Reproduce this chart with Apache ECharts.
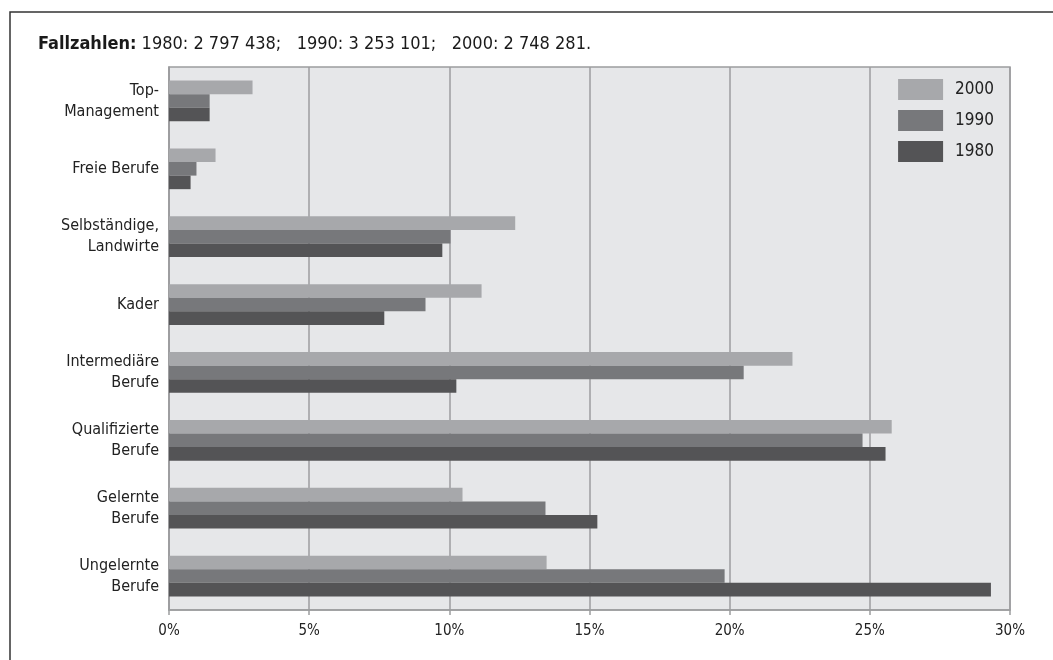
<!DOCTYPE html>
<html>
<head>
<meta charset="utf-8">
<script src="https://cdn.jsdelivr.net/npm/echarts@6/dist/echarts.min.js"></script>
<style>
html,body{margin:0;padding:0;background:#fff;}
#c{width:1053px;height:660px;}
</style>
</head>
<body>
<div id="c"></div>
<script>
var categories = ['Top-\nManagement', 'Freie Berufe', 'Selbständige,\nLandwirte', 'Kader', 'Intermediäre\nBerufe', 'Qualifizierte\nBerufe', 'Gelernte\nBerufe', 'Ungelernte\nBerufe'];
var years = ['2000', '1990', '1980'];
var values2000 = [2.98, 1.66, 12.35, 11.15, 22.24, 25.78, 10.47, 13.47];
var values1990 = [1.45, 0.98, 10.04, 9.15, 20.5, 24.74, 13.43, 19.82];
var values1980 = [1.45, 0.77, 9.75, 7.68, 10.25, 25.56, 15.28, 29.32];
var xTicks = [0, 5, 10, 15, 20, 25, 30];
var titleText = '1980: 2 797 438;   1990: 3 253 101;   2000: 2 748 281.';

var FONT = '"Liberation Sans Narrow", "DejaVu Sans Condensed", "Roboto", sans-serif';
var colors = ['#a7a8ab', '#77787b', '#545456'];
var seriesData = [values2000, values1990, values1980];

var chart = echarts.init(document.getElementById('c'), null, {renderer: 'canvas'});
chart.setOption({
  animation: false,
  backgroundColor: '#ffffff',
  textStyle: {fontFamily: FONT},
  graphic: [{
    type: 'rect',
    shape: {x: 10, y: 12, width: 1060, height: 670},
    style: {fill: 'none', stroke: '#333333', lineWidth: 1.5},
    silent: true, z: -10
  }],
  title: {
    text: '{b|Fallzahlen:} ' + titleText,
    left: 38, top: 35, padding: 0,
    textStyle: {
      fontFamily: FONT, fontSize: 18, fontWeight: 'normal', color: '#1a1a1a',
      rich: {b: {fontFamily: FONT, fontSize: 18, fontWeight: 'bold', color: '#1a1a1a'}}
    }
  },
  legend: {
    data: years,
    right: 59, top: 79, orient: 'vertical', padding: 0,
    itemWidth: 45, itemHeight: 21, itemGap: 10,
    icon: 'rect',
    textStyle: {fontFamily: FONT, fontSize: 17, color: '#222', padding: [0, 0, 0, 7]}
  },
  grid: {
    left: 169, right: 43, top: 67, bottom: 50,
    show: true, backgroundColor: '#e6e7e9', borderColor: '#9c9d9f', borderWidth: 1.5,
    containLabel: false
  },
  xAxis: {
    type: 'value', min: 0, max: 30, interval: 5,
    axisLine: {show: true, lineStyle: {color: '#9c9d9f', width: 1.5}},
    axisTick: {show: true, length: 5, lineStyle: {color: '#9c9d9f', width: 1.5}},
    splitLine: {show: true, lineStyle: {color: '#9c9d9f', width: 1.5}},
    axisLabel: {
      fontFamily: FONT, fontSize: 15, color: '#222', margin: 14,
      formatter: function (v) { return xTicks.indexOf(v) >= 0 ? v + '%' : ''; }
    }
  },
  yAxis: {
    type: 'category', data: categories, inverse: true,
    axisLine: {show: true, lineStyle: {color: '#9c9d9f', width: 1.5}},
    axisTick: {show: false},
    axisLabel: {fontFamily: FONT, fontSize: 16, color: '#222', lineHeight: 21, margin: 10, align: 'right'}
  },
  series: years.map(function (y, i) {
    return {
      name: y, type: 'bar', data: seriesData[i],
      barGap: '0%', barCategoryGap: '40%',
      itemStyle: {color: colors[i]},
      silent: true
    };
  })
});
</script>
</body>
</html>
